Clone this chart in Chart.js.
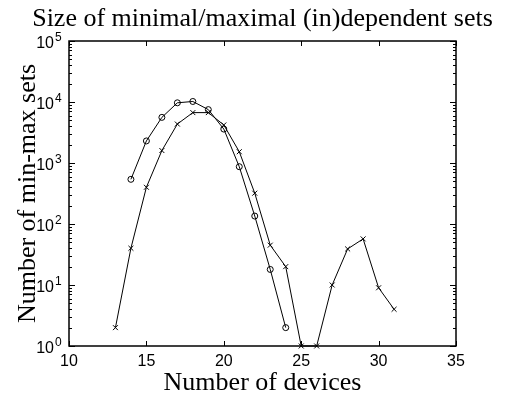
<!DOCTYPE html>
<html>
<head>
<meta charset="utf-8">
<script src="https://cdn.jsdelivr.net/npm/chart.js@4"></script>
<style>
  body { margin: 0; background: #fff; }
  canvas { display: block; }
</style>
</head>
<body>
<canvas id="graphique" width="509" height="397"></canvas>
<script>
// donnees
var devicesCercle = [14, 15, 16, 17, 18, 19, 20, 21, 22, 23, 24];
var valeursCercle = [540, 2300, 5600, 9700, 10200, 7500, 3600, 870, 135, 18, 2];

var devicesCroix = [13, 14, 15, 16, 17, 18, 19, 20, 21, 22, 23, 24, 25, 26, 27, 28, 29, 30, 31];
var valeursCroix = [2, 40, 400, 1600, 4350, 6700, 6700, 4200, 1530, 320, 45, 20, 1, 1, 10, 39, 57, 9, 4];

var ticksX = [10, 15, 20, 25, 30, 35];
var exposantsY = [0, 1, 2, 3, 4, 5];

var titre = "Size of minimal/maximal (in)dependent sets";
var titreX = "Number of devices";
var titreY = "Number of min-max sets";

function GetPoints(xs, ys) {
    var pts = [];
    var i = 0;
    while (i < xs.length) {
        pts.push({ x: xs[i], y: ys[i] });
        i++;
    }
    return pts;
}

// axes facon matlab : boite, ticks vers l'interieur, 10^n
var axesMatlab = {
    id: 'axesMatlab',
    afterDraw: function (chart) {
        var ctx = chart.ctx;
        var a = chart.chartArea;
        var sx = chart.scales.x;
        var sy = chart.scales.y;
        ctx.save();
        ctx.strokeStyle = '#000';
        ctx.fillStyle = '#000';
        ctx.lineWidth = 1.5;
        ctx.strokeRect(a.left, a.top, a.right - a.left, a.bottom - a.top);

        ctx.lineWidth = 1;
        ctx.beginPath();
        ticksX.forEach(function (v) {
            var px = Math.round(sx.getPixelForValue(v)) + 0.5;
            ctx.moveTo(px, a.bottom); ctx.lineTo(px, a.bottom - 5);
            ctx.moveTo(px, a.top); ctx.lineTo(px, a.top + 5);
        });
        for (var e = 0; e < 5; e++) {
            for (var m = 1; m <= 10; m++) {
                var v = m * Math.pow(10, e);
                var py = Math.round(sy.getPixelForValue(v)) + 0.5;
                var len = (m == 1 || m == 10) ? 6 : 3;
                ctx.moveTo(a.left, py); ctx.lineTo(a.left + len, py);
                ctx.moveTo(a.right, py); ctx.lineTo(a.right - len, py);
            }
        }
        ctx.stroke();

        ctx.font = '16px "Liberation Sans", Arial, sans-serif';
        ctx.textAlign = 'center';
        ctx.textBaseline = 'alphabetic';
        ticksX.forEach(function (v) {
            ctx.fillText(String(v), sx.getPixelForValue(v), 366);
        });

        exposantsY.forEach(function (e) {
            var py = sy.getPixelForValue(Math.pow(10, e));
            ctx.font = '16px "Liberation Sans", Arial, sans-serif';
            ctx.textAlign = 'right';
            ctx.textBaseline = 'alphabetic';
            ctx.fillText('10', a.left - 15, py + 7);
            ctx.font = '12px "Liberation Sans", Arial, sans-serif';
            ctx.textAlign = 'left';
            ctx.fillText(String(e), a.left - 14, py);
        });

        ctx.font = '26px "Liberation Serif", "Times New Roman", serif';
        ctx.textAlign = 'center';
        ctx.textBaseline = 'alphabetic';
        ctx.fillText(titre, (a.left + a.right) / 2, 26);
        ctx.fillText(titreX, (a.left + a.right) / 2, 390);

        ctx.translate(35, (a.top + a.bottom) / 2);
        ctx.rotate(-Math.PI / 2);
        ctx.fillText(titreY, 0, 0);
        ctx.restore();
    }
};

var ctx = document.getElementById('graphique').getContext('2d');

var graphique = new Chart(ctx, {
    type: 'line',
    data: {
        datasets: [
            {
                label: 'min',
                data: GetPoints(devicesCercle, valeursCercle),
                borderColor: '#000',
                borderWidth: 1,
                pointStyle: 'circle',
                pointRadius: 3,
                pointBorderWidth: 1,
                pointBorderColor: '#000',
                pointBackgroundColor: 'rgba(0,0,0,0)',
                fill: false,
                tension: 0
            },
            {
                label: 'max',
                data: GetPoints(devicesCroix, valeursCroix),
                borderColor: '#000',
                borderWidth: 1,
                pointStyle: 'crossRot',
                pointRadius: 3.5,
                pointBorderWidth: 1,
                pointBorderColor: '#000',
                fill: false,
                tension: 0
            }
        ]
    },
    options: {
        responsive: false,
        animation: false,
        devicePixelRatio: 1,
        clip: false,
        layout: {
            padding: { left: 69, right: 53, top: 41, bottom: 51 }
        },
        scales: {
            x: { type: 'linear', min: 10, max: 35, display: false },
            y: { type: 'logarithmic', min: 1, max: 100000, display: false }
        },
        plugins: {
            legend: { display: false },
            title: { display: false },
            tooltip: { enabled: false }
        }
    },
    plugins: [axesMatlab]
});
</script>
</body>
</html>
